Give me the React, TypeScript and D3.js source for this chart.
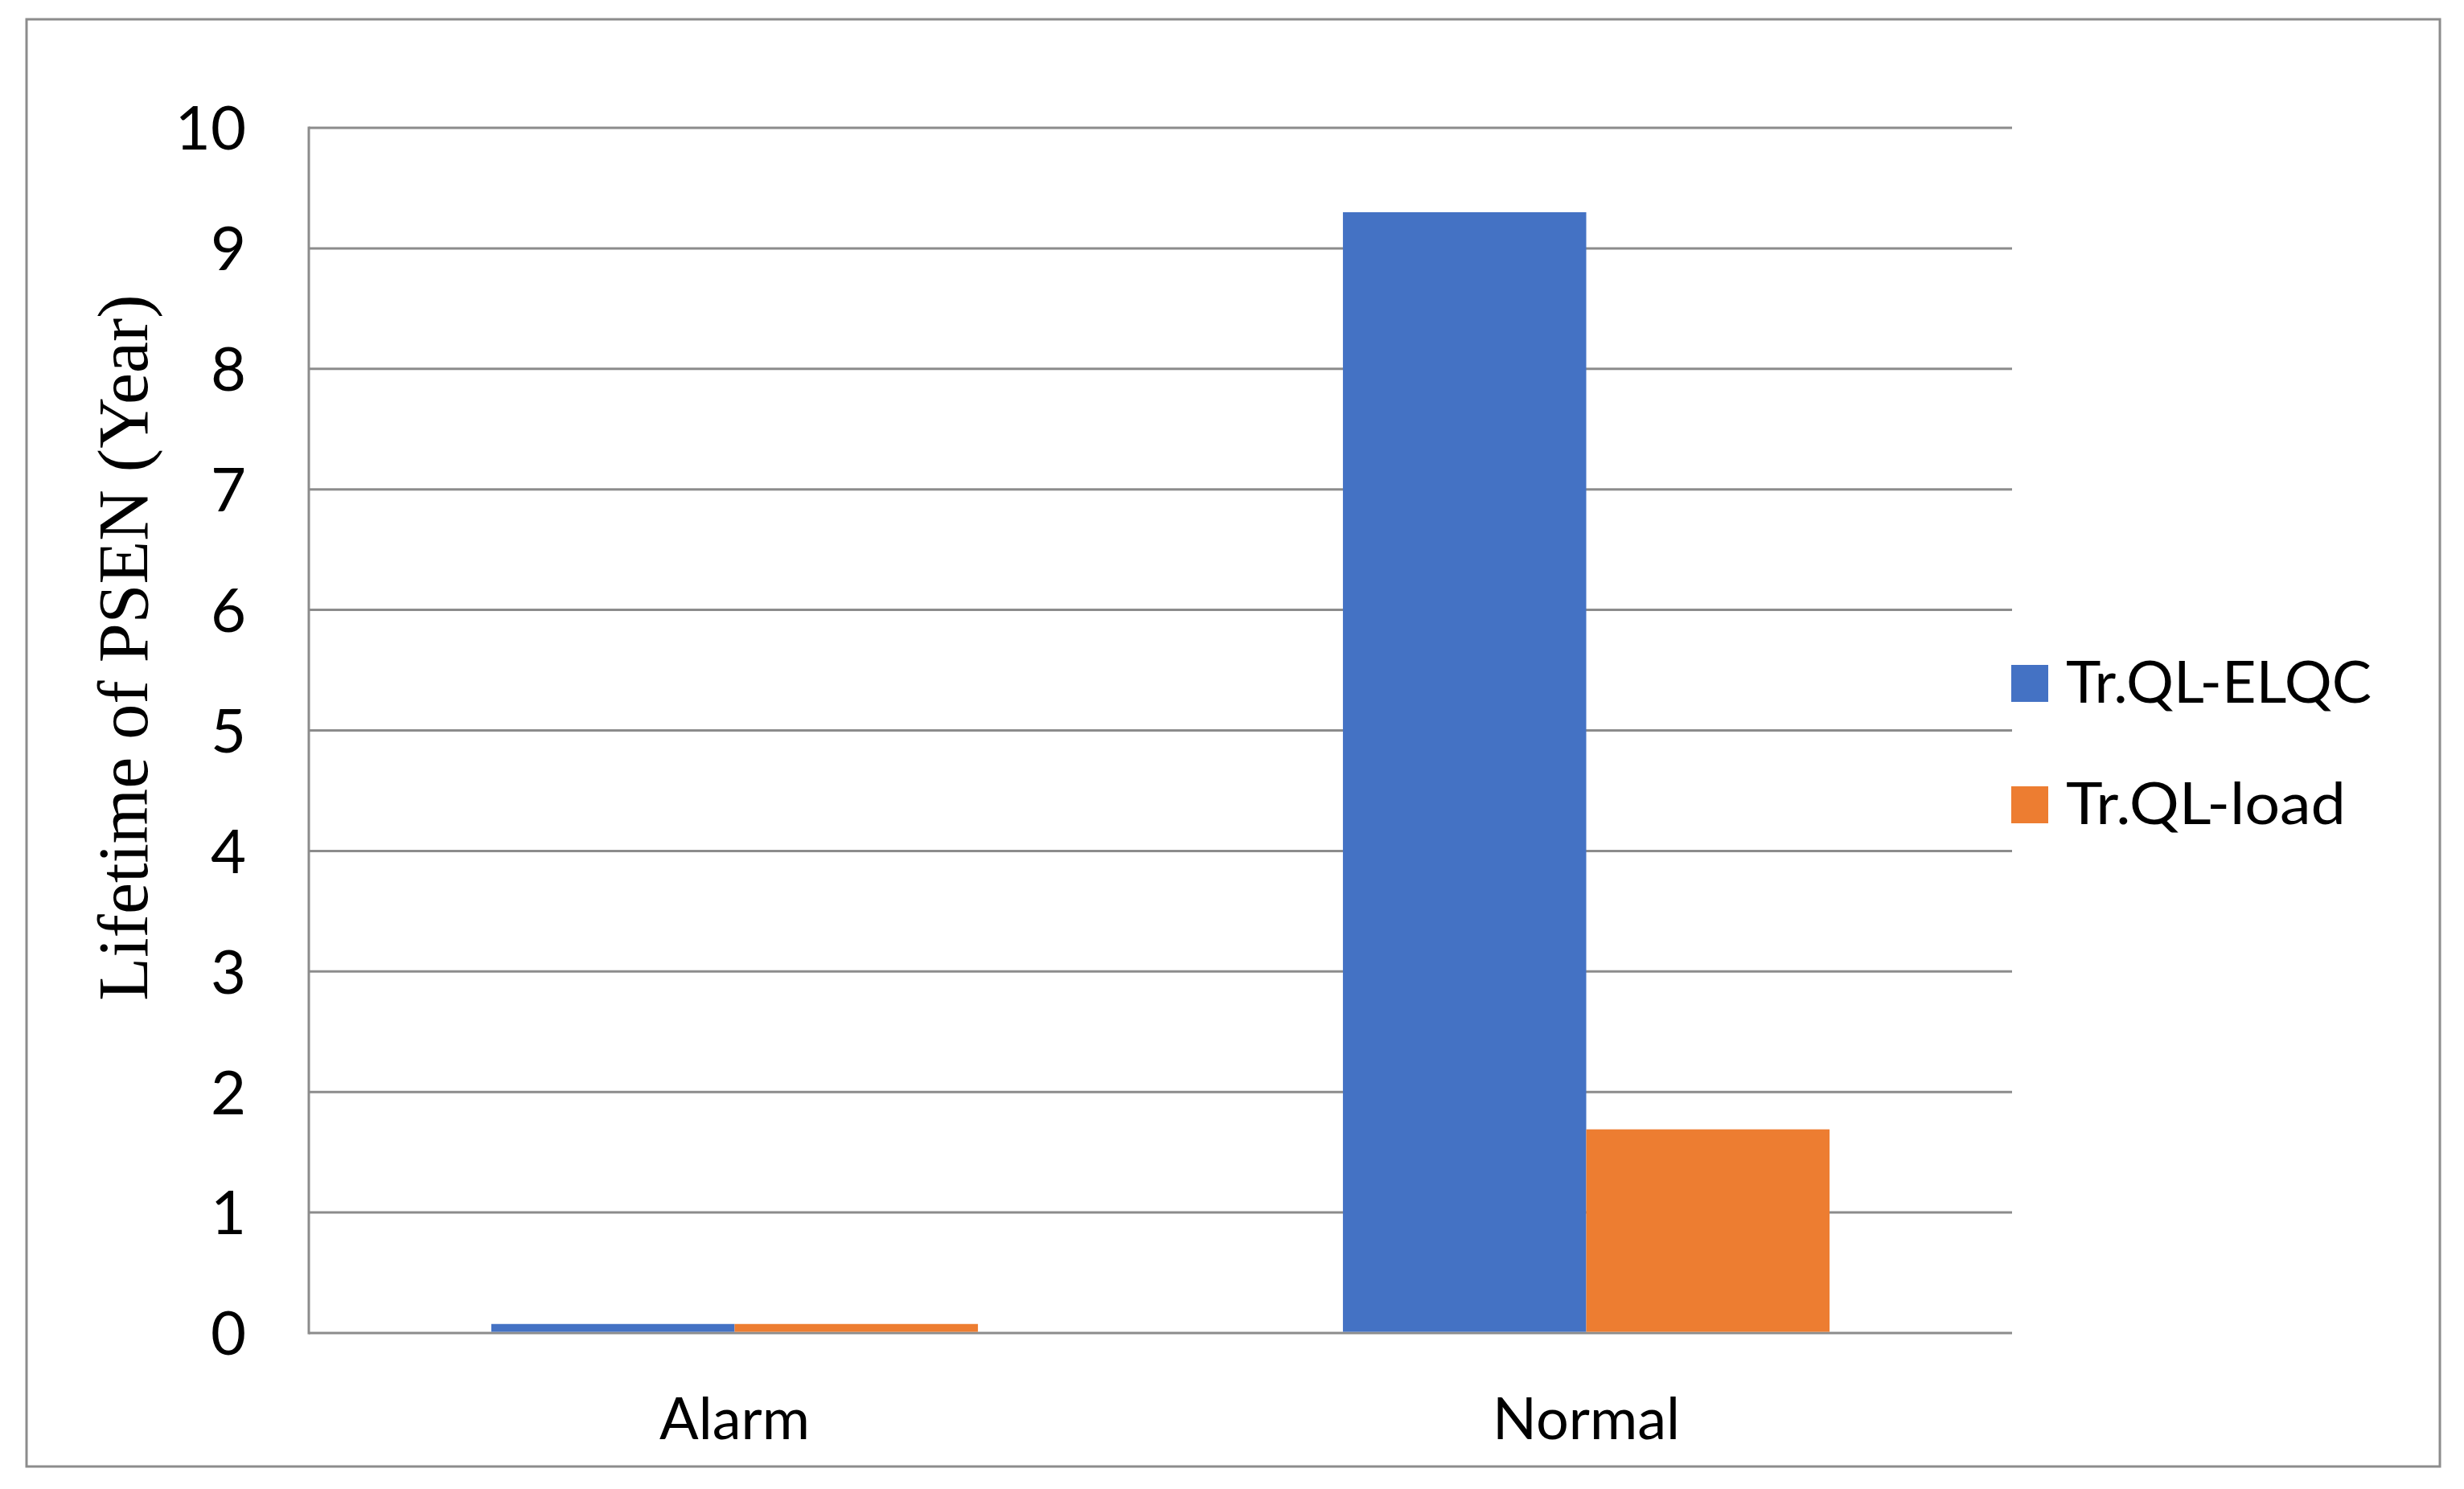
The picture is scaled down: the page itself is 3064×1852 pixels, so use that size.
import React from "react";
import * as d3 from "d3";

const categories = ["Alarm", "Normal"];
const seriesNames = ["Tr.QL-ELQC", "Tr.QL-load"];
const elqcValues = [0.075, 9.3];
const loadValues = [0.075, 1.69];
const seriesColors = ["#4472C4", "#ED7D31"];
const yTicks = [0, 1, 2, 3, 4, 5, 6, 7, 8, 9, 10];
const yTitle = "Lifetime of PSEN (Year)";

const W = 3064;
const H = 1852;
const plot = { left: 384, right: 2502, top: 159, bottom: 1658 };
const grid = "#8c8c8c";
const sans = "Lato, 'Open Sans', sans-serif";
const legendTextWidths = [380, 348];

export default function App() {
  const x0 = d3.scaleBand<string>().domain(categories).range([plot.left, plot.right]).paddingInner(0).paddingOuter(0);
  const x1 = d3.scaleBand<string>().domain(seriesNames).range([0, x0.bandwidth()]).paddingInner(0).paddingOuter(0.75);
  const y = d3.scaleLinear().domain([0, 10]).range([plot.bottom, plot.top]);
  const seriesValues = [elqcValues, loadValues];

  return (
    <svg width={W} height={H} style={{ position: "absolute", left: 0, top: 0, background: "#fff" }}>
      <rect x={0} y={0} width={W} height={H} fill="#fff" />
      <rect x={33} y={24} width={3001} height={1800} fill="none" stroke={grid} strokeWidth={3} />
      {yTicks.map((t) => (
        <line key={"g" + t} x1={plot.left} x2={plot.right} y1={y(t)} y2={y(t)} stroke={grid} strokeWidth={3} />
      ))}
      <line x1={plot.left} x2={plot.left} y1={plot.top - 1.5} y2={plot.bottom + 1.5} stroke={grid} strokeWidth={3} />
      {categories.map((c, ci) =>
        seriesNames.map((s, si) => {
          const v = seriesValues[si][ci];
          const bx = (x0(c) ?? 0) + (x1(s) ?? 0);
          return (
            <rect
              key={c + s}
              x={bx}
              y={y(v)}
              width={x1.bandwidth()}
              height={y(0) - y(v) - 1.5}
              fill={seriesColors[si]}
            />
          );
        })
      )}
      {yTicks.map((t) => (
        <text key={"t" + t} x={306} y={y(t)} dy="0.36em" textAnchor="end" fontFamily={sans} fontSize={76} fill="#000">
          {t}
        </text>
      ))}
      {categories.map((c) => (
        <text key={"c" + c} x={(x0(c) ?? 0) + x0.bandwidth() / 2} y={1790} textAnchor="middle" fontFamily={sans} fontSize={72} fill="#000">
          {c}
        </text>
      ))}
      <text
        transform={`translate(183, 805.5) rotate(-90)`}
        textAnchor="middle"
        fontFamily="'Liberation Serif', 'Times New Roman', serif"
        fontSize={88}
        fill="#000"
      >
        {yTitle}
      </text>
      {seriesNames.map((s, i) => (
        <g key={"l" + s} transform={`translate(2501, ${827 + i * 151})`}>
          <rect x={0} y={0} width={46} height={46} fill={seriesColors[i]} />
          <text x={68} y={47} fontFamily={sans} fontSize={72} fill="#000" textLength={legendTextWidths[i]} lengthAdjust="spacingAndGlyphs">
            {s}
          </text>
        </g>
      ))}
    </svg>
  );
}
